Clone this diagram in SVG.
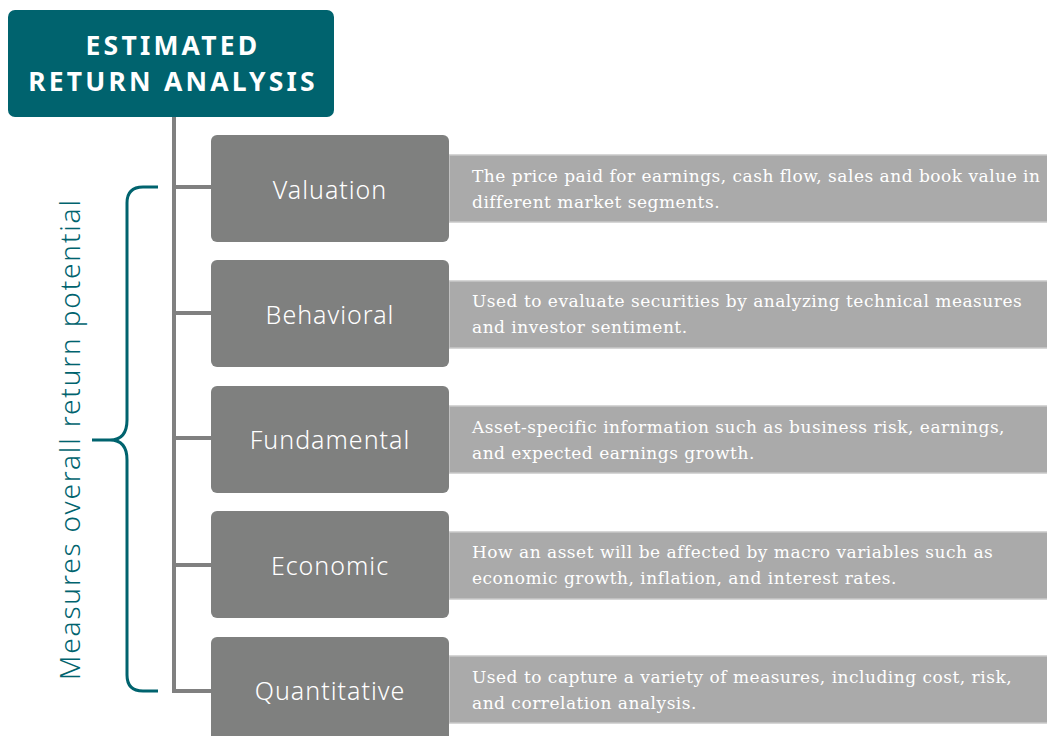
<svg xmlns="http://www.w3.org/2000/svg" width="1047" height="736" viewBox="0 0 1047 736">
<style>
.title{font-family:"Noto Sans","Open Sans",sans-serif;font-weight:700;font-size:26.5px;fill:#fff;text-anchor:middle;letter-spacing:3.2px}
.box{fill:#7f807f}
.lbl{font-family:"Noto Sans","Open Sans",sans-serif;font-weight:300;font-size:25px;fill:#fff;text-anchor:middle;letter-spacing:1px}
.bar{fill:#aaaaaa;stroke:#c9c9c9;stroke-width:1.5}
.desc{font-family:"DejaVu Serif","Liberation Serif",serif;font-size:17px;fill:#fff;letter-spacing:0.5px}
.conn{stroke:#808080;stroke-width:4;fill:none}
.brace{stroke:#00636e;stroke-width:3;fill:none}
</style>
<rect width="1047" height="736" fill="#fff"/>
<g id="connectors">
<path class="conn" d="M174 117 V691 H211"/>
<path class="conn" d="M174 187 H211 M174 313 H211 M174 438 H211 M174 565 H211"/>
</g>
<g id="brace">
<path class="brace" d="M158 187 H143 Q127 187 127 203 V420 Q127 440 110 440 H92 M110 440 Q127 440 127 460 V675 Q127 691 143 691 H158"/>
<text transform="translate(80 440) rotate(-90)" font-family="Noto Sans,Open Sans,sans-serif" font-weight="300" font-size="28" fill="#00636e" text-anchor="middle" textLength="480">Measures overall return potential</text>
</g>
<g id="title">
<rect x="8" y="10" width="326" height="107" rx="7" fill="#00636e"/>
<text class="title" x="173" y="55">ESTIMATED</text>
<text class="title" x="173" y="91">RETURN ANALYSIS</text>
</g>
<g id="valuation">
<rect class="bar" x="449" y="155" width="600" height="67"/>
<rect class="box" x="211" y="135" width="238" height="107" rx="6"/>
<text class="lbl" x="330" y="199">Valuation</text>
<text class="desc" x="472" y="182">The price paid for earnings, cash flow, sales and book value in</text>
<text class="desc" x="472" y="208">different market segments.</text>
</g>
<g id="behavioral">
<rect class="bar" x="449" y="281" width="600" height="67"/>
<rect class="box" x="211" y="260" width="238" height="107" rx="6"/>
<text class="lbl" x="330" y="324">Behavioral</text>
<text class="desc" x="472" y="307">Used to evaluate securities by analyzing technical measures</text>
<text class="desc" x="472" y="333">and investor sentiment.</text>
</g>
<g id="fundamental">
<rect class="bar" x="449" y="406" width="600" height="67"/>
<rect class="box" x="211" y="386" width="238" height="107" rx="6"/>
<text class="lbl" x="330" y="449">Fundamental</text>
<text class="desc" x="472" y="433">Asset-specific information such as business risk, earnings,</text>
<text class="desc" x="472" y="459">and expected earnings growth.</text>
</g>
<g id="economic">
<rect class="bar" x="449" y="532" width="600" height="67"/>
<rect class="box" x="211" y="511" width="238" height="107" rx="6"/>
<text class="lbl" x="330" y="575">Economic</text>
<text class="desc" x="472" y="558">How an asset will be affected by macro variables such as</text>
<text class="desc" x="472" y="584">economic growth, inflation, and interest rates.</text>
</g>
<g id="quantitative">
<rect class="bar" x="449" y="656" width="600" height="67"/>
<rect class="box" x="211" y="637" width="238" height="110" rx="6"/>
<text class="lbl" x="330" y="700">Quantitative</text>
<text class="desc" x="472" y="683">Used to capture a variety of measures, including cost, risk,</text>
<text class="desc" x="472" y="709">and correlation analysis.</text>
</g>
</svg>
